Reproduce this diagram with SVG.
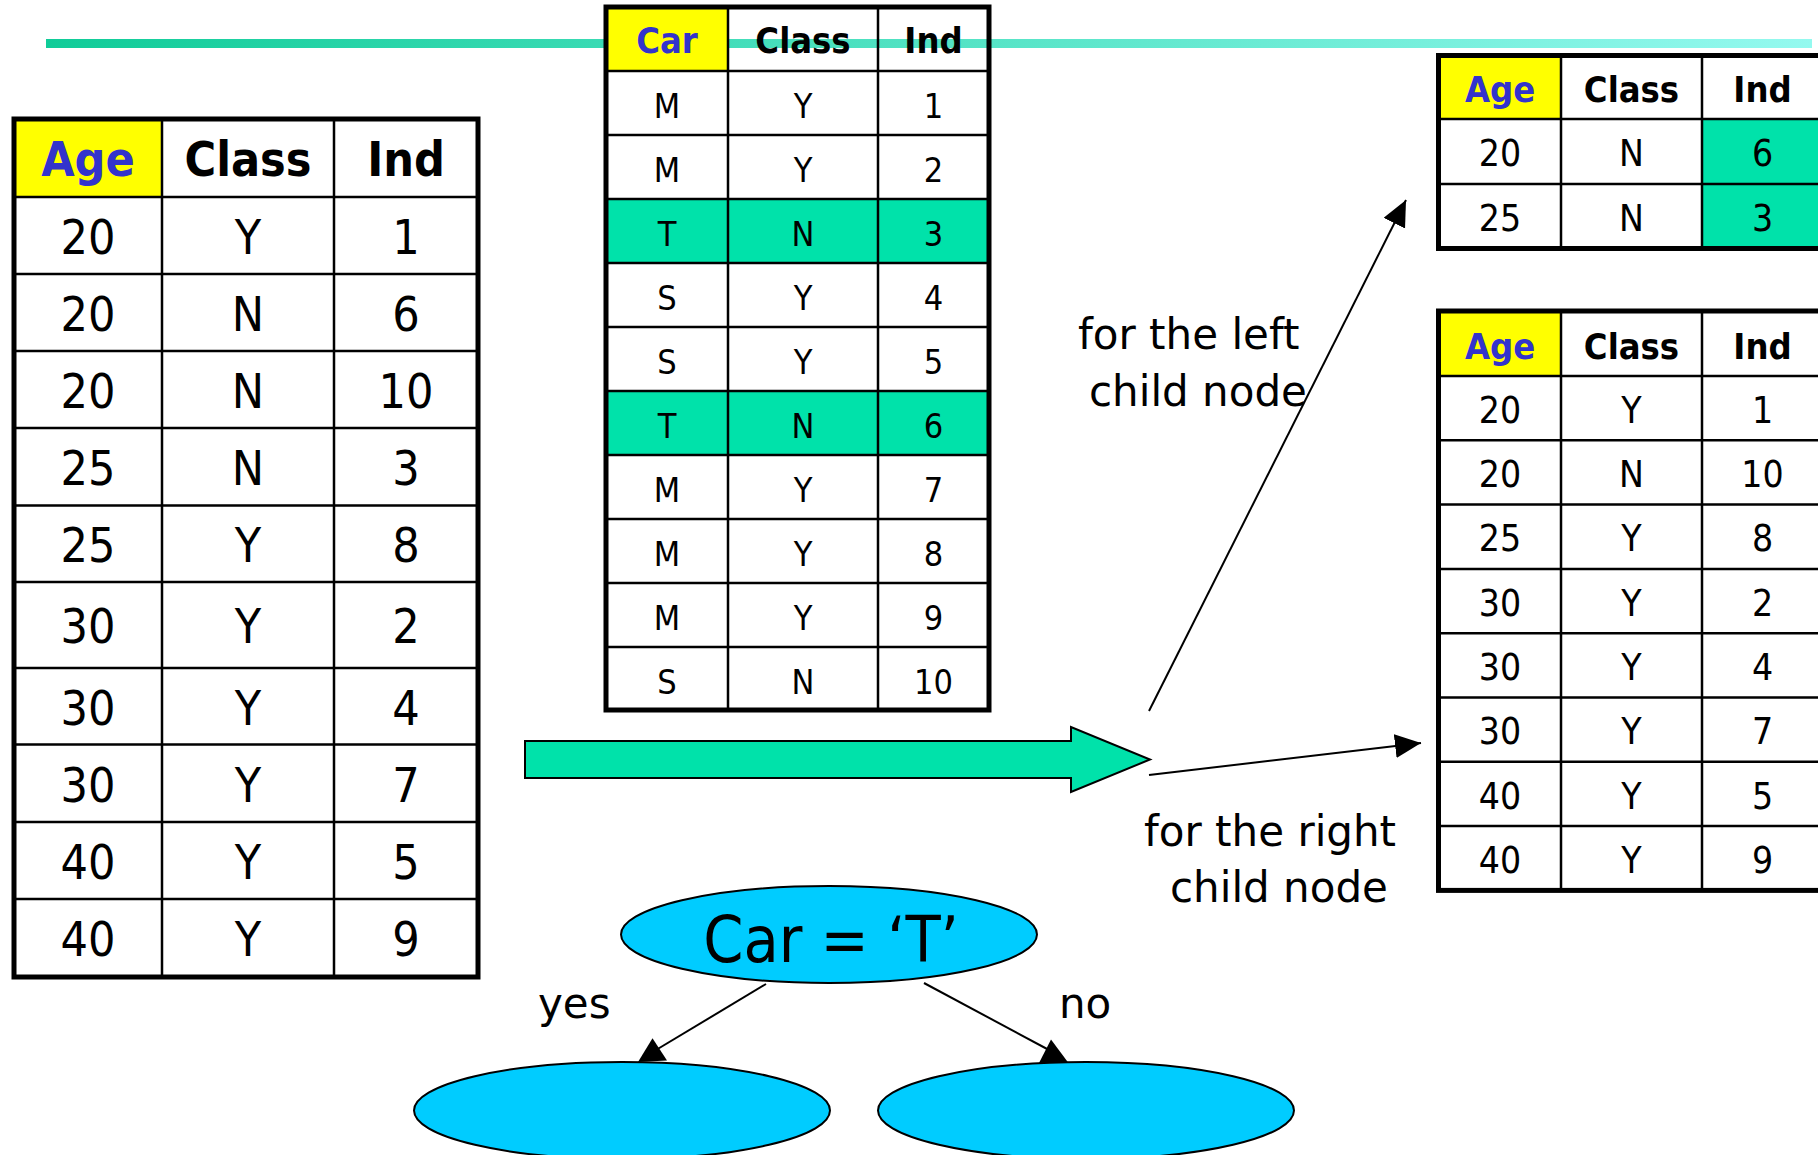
<svg xmlns="http://www.w3.org/2000/svg" width="1818" height="1155" viewBox="0 0 1818 1155">
  <defs>
    <linearGradient id="rule" x1="0" y1="0" x2="1" y2="0">
      <stop offset="0" stop-color="#10cc98"/>
      <stop offset="1" stop-color="#94f9ef"/>
    </linearGradient>
    <marker id="head" markerUnits="userSpaceOnUse" markerWidth="28" markerHeight="26" refX="26" refY="12" orient="auto">
      <path d="M0,0 L26,12 L0,24 Z" fill="#000"/>
    </marker>
    <style>
      .bg { fill: #fff; }
      .key { fill: #ffff00; }
      .hl { fill: #00e2aa; }
      .grid { fill: none; stroke: #000; stroke-width: 2.5; }
      .frame { fill: none; stroke: #000; stroke-width: 5; }
      .t { font-family: "DejaVu Sans Condensed", "DejaVu Sans", sans-serif; font-stretch: condensed; text-anchor: middle; fill: #000; }
      .b { font-weight: bold; }
      .blue { fill: #3333cc; }
      .s48 { font-size: 48px; }
      .s37 { font-size: 37px; }
      .s36 { font-size: 36px; }
      .s34 { font-size: 34px; }
      .lbl { font-family: "DejaVu Sans", sans-serif; font-size: 42px; fill: #000; }
      .node { fill: #00ccff; stroke: #000; stroke-width: 2; }
      .edge { fill: none; stroke: #000; stroke-width: 2; }
    </style>
  </defs>

  <!-- title rule -->
  <rect x="46" y="39" width="1766" height="9" fill="url(#rule)"/>

  <!-- table sorted by Age -->
  <g id="table-age">
    <rect class="bg" x="14" y="119" width="464" height="858"/>
    <rect class="key" x="14" y="119" width="148" height="78"/>
    <path class="grid" d="M162,119V977 M334,119V977 M14,197H478 M14,274H478 M14,351H478 M14,428H478 M14,505.5H478 M14,582H478 M14,668H478 M14,744.5H478 M14,822H478 M14,899H478"/>
    <rect class="frame" x="14" y="119" width="464" height="858"/>
    <g class="t s48 b">
      <text class="blue" x="88" y="176">Age</text>
      <text x="248" y="176">Class</text>
      <text x="406" y="176">Ind</text>
    </g>
    <g class="t s48">
      <text x="88" y="254">20</text><text x="248" y="254">Y</text><text x="406" y="254">1</text>
      <text x="88" y="331">20</text><text x="248" y="331">N</text><text x="406" y="331">6</text>
      <text x="88" y="408">20</text><text x="248" y="408">N</text><text x="406" y="408">10</text>
      <text x="88" y="485">25</text><text x="248" y="485">N</text><text x="406" y="485">3</text>
      <text x="88" y="562">25</text><text x="248" y="562">Y</text><text x="406" y="562">8</text>
      <text x="88" y="643">30</text><text x="248" y="643">Y</text><text x="406" y="643">2</text>
      <text x="88" y="724.5">30</text><text x="248" y="724.5">Y</text><text x="406" y="724.5">4</text>
      <text x="88" y="801.5">30</text><text x="248" y="801.5">Y</text><text x="406" y="801.5">7</text>
      <text x="88" y="879">40</text><text x="248" y="879">Y</text><text x="406" y="879">5</text>
      <text x="88" y="956">40</text><text x="248" y="956">Y</text><text x="406" y="956">9</text>
    </g>
  </g>

  <!-- table of the Car attribute -->
  <g id="table-car">
    <rect class="bg" x="606" y="71" width="383" height="639"/>
    <rect class="key" x="606" y="7" width="122" height="64"/>
    <rect class="hl" x="606" y="199" width="383" height="64"/>
    <rect class="hl" x="606" y="391" width="383" height="64"/>
    <path class="grid" d="M728,7V710 M878,7V710 M606,71H989 M606,135H989 M606,199H989 M606,263H989 M606,327H989 M606,391H989 M606,455H989 M606,519H989 M606,583H989 M606,647H989"/>
    <rect class="frame" x="606" y="7" width="383" height="703"/>
    <g class="t s36 b">
      <text class="blue" x="667" y="53">Car</text>
      <text x="803" y="53">Class</text>
      <text x="933.5" y="53">Ind</text>
    </g>
    <g class="t s34">
      <text x="667" y="118">M</text><text x="803" y="118">Y</text><text x="933.5" y="118">1</text>
      <text x="667" y="182">M</text><text x="803" y="182">Y</text><text x="933.5" y="182">2</text>
      <text x="667" y="246">T</text><text x="803" y="246">N</text><text x="933.5" y="246">3</text>
      <text x="667" y="310">S</text><text x="803" y="310">Y</text><text x="933.5" y="310">4</text>
      <text x="667" y="374">S</text><text x="803" y="374">Y</text><text x="933.5" y="374">5</text>
      <text x="667" y="438">T</text><text x="803" y="438">N</text><text x="933.5" y="438">6</text>
      <text x="667" y="502">M</text><text x="803" y="502">Y</text><text x="933.5" y="502">7</text>
      <text x="667" y="566">M</text><text x="803" y="566">Y</text><text x="933.5" y="566">8</text>
      <text x="667" y="630">M</text><text x="803" y="630">Y</text><text x="933.5" y="630">9</text>
      <text x="667" y="693.5">S</text><text x="803" y="693.5">N</text><text x="933.5" y="693.5">10</text>
    </g>
  </g>

  <!-- Age list for the left child -->
  <g id="table-left-child">
    <rect class="bg" x="1438.5" y="55.5" width="384.5" height="193"/>
    <rect class="key" x="1438.5" y="55.5" width="122.5" height="63.5"/>
    <rect class="hl" x="1702" y="119" width="121" height="129.5"/>
    <path class="grid" d="M1561,55.5V248.5 M1702,55.5V248.5 M1438.5,119H1823 M1438.5,184H1823"/>
    <rect class="frame" x="1438.5" y="55.5" width="384.5" height="193"/>
    <g class="t s36 b">
      <text class="blue" x="1500" y="102">Age</text>
      <text x="1631.5" y="102">Class</text>
      <text x="1762.5" y="102">Ind</text>
    </g>
    <g class="t s37">
      <text x="1500" y="166">20</text><text x="1631.5" y="166">N</text><text x="1762.5" y="166">6</text>
      <text x="1500" y="230.5">25</text><text x="1631.5" y="230.5">N</text><text x="1762.5" y="230.5">3</text>
    </g>
  </g>

  <!-- Age list for the right child -->
  <g id="table-right-child">
    <rect class="bg" x="1438.5" y="311" width="384.5" height="579.4"/>
    <rect class="key" x="1438.5" y="311" width="122.5" height="65"/>
    <path class="grid" d="M1561,311V890.4 M1702,311V890.4 M1438.5,376H1823 M1438.5,440.3H1823 M1438.5,504.6H1823 M1438.5,568.9H1823 M1438.5,633.2H1823 M1438.5,697.5H1823 M1438.5,761.8H1823 M1438.5,826.1H1823"/>
    <rect class="frame" x="1438.5" y="311" width="384.5" height="579.4"/>
    <g class="t s36 b">
      <text class="blue" x="1500" y="358.5">Age</text>
      <text x="1631.5" y="358.5">Class</text>
      <text x="1762.5" y="358.5">Ind</text>
    </g>
    <g class="t s37">
      <text x="1500" y="422.6">20</text><text x="1631.5" y="422.6">Y</text><text x="1762.5" y="422.6">1</text>
      <text x="1500" y="487">20</text><text x="1631.5" y="487">N</text><text x="1762.5" y="487">10</text>
      <text x="1500" y="551.3">25</text><text x="1631.5" y="551.3">Y</text><text x="1762.5" y="551.3">8</text>
      <text x="1500" y="615.6">30</text><text x="1631.5" y="615.6">Y</text><text x="1762.5" y="615.6">2</text>
      <text x="1500" y="679.9">30</text><text x="1631.5" y="679.9">Y</text><text x="1762.5" y="679.9">4</text>
      <text x="1500" y="744.2">30</text><text x="1631.5" y="744.2">Y</text><text x="1762.5" y="744.2">7</text>
      <text x="1500" y="808.5">40</text><text x="1631.5" y="808.5">Y</text><text x="1762.5" y="808.5">5</text>
      <text x="1500" y="872.8">40</text><text x="1631.5" y="872.8">Y</text><text x="1762.5" y="872.8">9</text>
    </g>
  </g>

  <!-- split block arrow -->
  <g id="split-arrow">
    <polygon points="525,741 1071,741 1071,727 1150,759.5 1071,792 1071,778 525,778" fill="#00e2aa" stroke="#000" stroke-width="2"/>
  </g>

  <!-- decision tree nodes -->
  <g id="node-root">
    <ellipse class="node" cx="829" cy="934.5" rx="208" ry="48.5"/>
    <text class="t" x="831" y="962" font-size="64">Car = ‘T’</text>
  </g>
  <g id="node-yes">
    <ellipse class="node" cx="622" cy="1110.5" rx="208" ry="48.5"/>
  </g>
  <g id="node-no">
    <ellipse class="node" cx="1086" cy="1110.5" rx="208" ry="48.5"/>
  </g>

  <!-- connectors -->
  <g id="connectors">
    <line class="edge" x1="1149" y1="711" x2="1406" y2="200" marker-end="url(#head)"/>
    <line class="edge" x1="1149" y1="775" x2="1421" y2="743" marker-end="url(#head)"/>
    <line class="edge" x1="766" y1="984" x2="656" y2="1050"/>
    <polygon points="652.5,1038.3 638,1062 667,1060.5" fill="#000"/>
    <line class="edge" x1="924" y1="983" x2="1049" y2="1050"/>
    <polygon points="1051,1039.5 1039,1063 1068.5,1063" fill="#000"/>
  </g>

  <!-- labels -->
  <g id="labels">
    <text class="lbl" x="1078" y="349">for the left</text>
    <text class="lbl" x="1089" y="406">child node</text>
    <text class="lbl" x="1144" y="846">for the right</text>
    <text class="lbl" x="1170" y="902">child node</text>
    <text class="lbl" x="538" y="1018">yes</text>
    <text class="lbl" x="1059" y="1018">no</text>
  </g>
</svg>
